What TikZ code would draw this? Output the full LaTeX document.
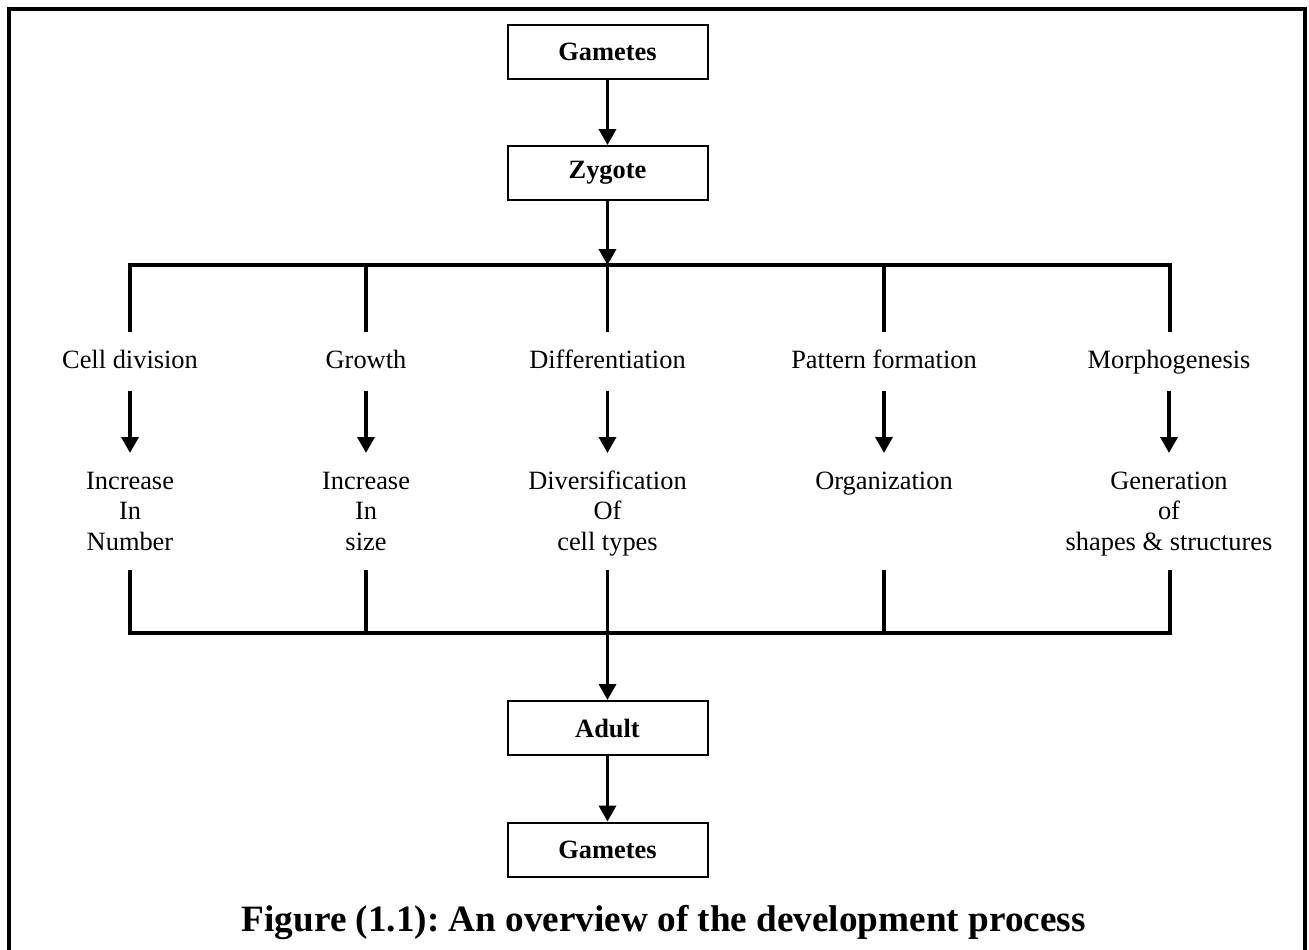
\documentclass[tikz,border=0pt]{standalone}
\usepackage{fontspec}
\setmainfont{Liberation Serif}
\usetikzlibrary{arrows.meta}
\newcommand\firstline{\rule{0pt}{19pt}}
\frenchspacing
\begin{document}
\begin{tikzpicture}[x=1pt,y=-1pt,
  box/.style={draw,line width=2pt,minimum width=200pt,minimum height=54pt,inner sep=0pt,font=\fontsize{26.4}{30}\selectfont\bfseries},
  proc/.style={anchor=base,inner xsep=2pt,inner ysep=17pt,text height=19pt,text depth=6pt,font=\fontsize{26.4}{30.7}\selectfont},
  res/.style={anchor=north,inner xsep=2pt,inner ysep=17pt,align=center,font=\fontsize{26.4}{30.7}\selectfont},
  conn/.style={line width=3.5pt},
  arr/.style={conn,-{Triangle[length=16pt,width=17pt]}},
  frame/.style={line width=4pt}]
\useasboundingbox (0,0) rectangle (1309,950);
\draw[frame] (8.7,970) -- (8.7,8.7) -- (1304.7,8.7) -- (1304.7,970);

% boxes
\node[box] (g1) at (607.5,52) {Gametes};
\node[box] (z) at (607.5,173) {Zygote};
\node[box] (a) at (607.5,728) {Adult};
\node[box] (g2) at (607.5,849.5) {Gametes};

% process labels
\node[proc] (p1) at (130,368) {Cell division};
\node[proc] (p2) at (366,368) {Growth};
\node[proc] (p3) at (607.5,368) {Differentiation};
\node[proc] (p4) at (884,368) {Pattern formation};
\node[proc] (p5) at (1169,368) {Morphogenesis};

% results
\node[res] (r1) at (130,453) {\firstline Increase\\In\\Number};
\node[res] (r2) at (366,453) {\firstline Increase\\In\\size};
\node[res] (r3) at (607.5,453) {\firstline Diversification\\Of\\cell types};
\node[res] (r4) at (884,453) {\firstline Organization};
\node[res] (r5) at (1169,453) {\firstline Generation\\of\\shapes \& structures};

% coordinates
\coordinate (t1) at (130,265);
\coordinate (t2) at (366,265);
\coordinate (t3) at (607.5,265);
\coordinate (t4) at (884,265);
\coordinate (t5) at (1170,265);
\coordinate (b1) at (130,570);
\coordinate (b2) at (366,570);
\coordinate (b3) at (607.5,570);
\coordinate (b4) at (884,570);
\coordinate (b5) at (1170,570);
\coordinate (c1) at (130,633);
\coordinate (c2) at (366,633);
\coordinate (c4) at (884,633);
\coordinate (c5) at (1170,633);

% top arrows
\draw[arr] (g1.south) -- (z.north);
\draw[arr] (z.south) -- (t3);

% top bar
\draw[conn] (p1.north) -- (t1) -- (t5) -- (p5.north -| t5);
\draw[conn] (t2) -- (p2.north);
\draw[conn] (t3) -- (p3.north);
\draw[conn] (t4) -- (p4.north);

% middle arrows
\draw[arr] (p1.south) -- (r1.north);
\draw[arr] (p2.south) -- (r2.north);
\draw[arr] (p3.south) -- (r3.north);
\draw[arr] (p4.south) -- (r4.north);
\draw[arr] (p5.south) -- (r5.north);

% bottom bar
\draw[conn] (b1) -- (c1) -- (c5) -- (b5);
\draw[conn] (b2) -- (c2);
\draw[conn] (b4) -- (c4);
\draw[arr] (b3) -- (a.north);
\draw[arr] (a.south) -- (g2.north);

% title
\node[anchor=base,inner sep=0pt,font=\fontsize{37.2}{40}\selectfont\bfseries] (title) at (663.7,931.5) {Figure (1.1): An overview of the development process};
\end{tikzpicture}
\end{document}
